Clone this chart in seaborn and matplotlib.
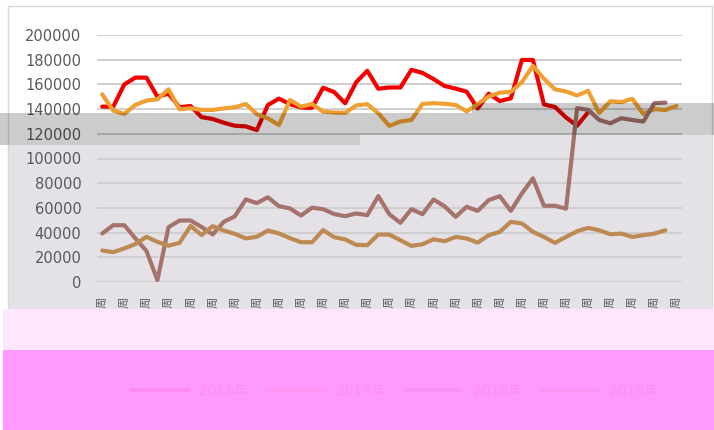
import matplotlib
matplotlib.use("Agg")
import matplotlib.pyplot as plt
from matplotlib.patches import Rectangle
import pandas as pd
import seaborn as sns

W, H = 714, 430

# categories (53 weeks), every other one labelled
weeks = [f"第{i}周" for i in range(1, 54)]
series_names = ["2016年", "2017年", "2018年", "2019年"]
series_colors = ["#F20000", "#F0A030", "#A5736B", "#BC8A52"]

red_vals = [142000, 142000, 160000, 165500, 165500, 150000, 152500, 141500, 142500, 133500,
            132000, 129000, 126500, 126000, 123000, 143300, 148500, 144000, 141300, 141000,
            157300, 153800, 144700, 161800, 171000, 156500, 157500, 157500, 171800, 169300,
            164300, 158700, 156600, 154100, 140500, 152500, 146500, 148700, 179800, 179800,
            143800, 141700, 133200, 126500, 137500]
orange_vals = [152000, 138800, 136100, 143400, 146900, 148000, 156000, 139900, 140700, 139400,
               139300, 140600, 141400, 144100, 136000, 132500, 127100, 147400, 142000, 144100,
               138000, 137200, 137000, 143000, 144000, 136700, 126400, 130000, 131200, 144200,
               144800, 144300, 143400, 138200, 144000, 150300, 153300, 154000, 161800, 175000,
               164600, 156000, 154300, 151000, 154800, 136800, 146400, 145600, 148300, 136000,
               140000, 139300, 142500]
mauve_vals = [39300, 46000, 46000, 35300, 25200, 1500, 44400, 49800, 49800, 44500,
              38500, 48700, 53100, 66900, 63900, 68600, 61400, 59600, 53800, 60200,
              59000, 55000, 53300, 55500, 54100, 69500, 54900, 47900, 59000, 54900,
              66800, 61300, 52800, 60900, 57600, 66300, 69500, 57600, 71700, 83900,
              61700, 61700, 59400, 140700, 139400, 131200, 128500, 132600, 131200, 129900,
              144800, 145300]
tan_vals = [25500, 24200, 27200, 30700, 36600, 32500, 29400, 31700, 45400, 38000,
            45200, 41700, 39000, 35300, 36600, 41700, 39300, 35500, 32200, 32200,
            42000, 36300, 34500, 30100, 29800, 38400, 38400, 33800, 29200, 30600,
            34600, 33000, 36500, 35200, 31900, 37900, 40600, 48700, 47400, 40600,
            36500, 31700, 36500, 41100, 43800, 41900, 38700, 39200, 36500, 37900,
            39200, 41900]
y_ticks = list(range(0, 200001, 20000))

rows = []
for name, vals in zip(series_names, [red_vals, orange_vals, mauve_vals, tan_vals]):
    for i, v in enumerate(vals):
        rows.append((i, v, name))
df = pd.DataFrame(rows, columns=["week", "value", "series"])

sns.set_style("white")
plt.rcParams["font.family"] = ["DejaVu Sans", "Noto Sans CJK SC"]


def px_rect(x0, y0, x1, y1, **kw):
    return Rectangle((x0 / W, 1 - y1 / H), (x1 - x0) / W, (y1 - y0) / H,
                     transform=fig.transFigure, **kw)


fig = plt.figure(figsize=(W / 100, H / 100), dpi=100)
fig.patch.set_facecolor("white")

# lavender backdrop under the lower part of the chart
fig.patches.append(px_rect(8, 145, 712, 310, facecolor="#E4E2E6", edgecolor="none", zorder=-2))
fig.patches.append(px_rect(360, 135, 712, 146, facecolor="#E4E2E6", edgecolor="none", zorder=-2))
fig.patches.append(px_rect(8, 6, 712, 426, facecolor="none", edgecolor="#D9D9D9", lw=1, zorder=-1))

ax = fig.add_axes([96.7 / W, 1 - 282 / H, (682 - 96.7) / W, (282 - 35) / H])
ax.set_facecolor("none")

sns.lineplot(data=df, x="week", y="value", hue="series", hue_order=series_names,
             palette=dict(zip(series_names, series_colors)), linewidth=3,
             estimator=None, sort=False, ax=ax, solid_joinstyle="round", solid_capstyle="round")

ax.set_xlim(-0.5, len(weeks) - 0.5)
ax.set_ylim(0, 200000)
ax.set_yticks(y_ticks)
ax.set_yticklabels([str(v) for v in y_ticks])
ax.set_xticks(range(0, len(weeks), 2))
ax.set_xticklabels(weeks[::2], rotation=90, va="top", ha="center")
ax.tick_params(axis="y", length=0, pad=11, labelsize=10.5, labelcolor="#595959")
ax.tick_params(axis="x", length=0, pad=10, labelsize=8, labelcolor="#595959")
ax.grid(axis="y", color="#CFCFCF", lw=1.4)
ax.set_axisbelow(True)
for s in ax.spines.values():
    s.set_visible(False)
ax.set_xlabel("")
ax.set_ylabel("")

handles, labels = ax.get_legend_handles_labels()
ax.get_legend().remove()
leg = fig.legend(handles, labels, loc="center", bbox_to_anchor=(0.553, 1 - 391 / H), ncol=4,
                 frameon=False, fontsize=10, handlelength=4.1, columnspacing=1.4,
                 labelcolor="#595959")
leg.set_zorder(5)

# grey translucent band across the chart
fig.patches.append(px_rect(0, 113, 360, 145, facecolor="black", alpha=0.2, edgecolor="none", zorder=8))
fig.patches.append(px_rect(360, 113, 472, 135, facecolor="black", alpha=0.2, edgecolor="none", zorder=8))
fig.patches.append(px_rect(472, 103, 714, 135, facecolor="black", alpha=0.2, edgecolor="none", zorder=8))

# pink bands across the bottom
fig.patches.append(px_rect(3, 309, 714, 350, facecolor="#FFE6FF", edgecolor="none", zorder=9))
fig.patches.append(px_rect(3, 350, 714, 430, facecolor=(1, 0.58, 1), alpha=0.95, edgecolor="none", zorder=10))

fig.savefig("out.png", dpi=100)
